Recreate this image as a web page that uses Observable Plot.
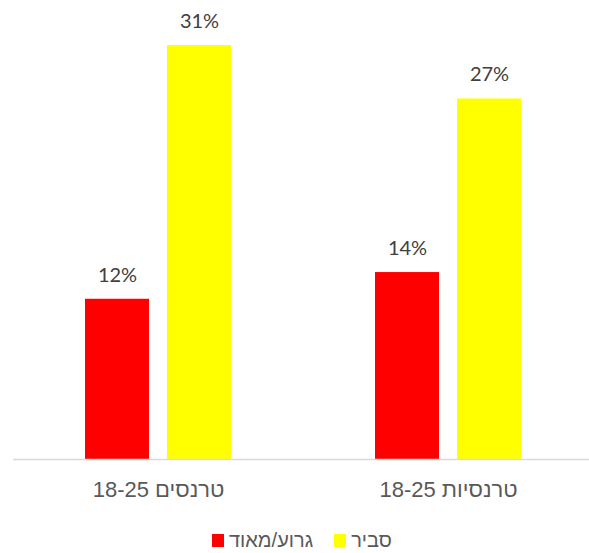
<!DOCTYPE html>
<html>
<head>
<meta charset="utf-8">
<script src="https://cdn.jsdelivr.net/npm/d3@7"></script>
<script src="https://cdn.jsdelivr.net/npm/@observablehq/plot@0.6"></script>
<style>
  html, body { margin: 0; padding: 0; background: #fff; overflow: hidden; }
  #wrap { position: relative; width: 589px; height: 553px; }
  #legend { position: absolute; left: 212px; top: 528px; height: 24px; line-height: 24px;
    display: flex; align-items: center; font-family: "Liberation Sans", Arial, sans-serif;
    font-size: 20px; color: #595959; }
  .sw { display: inline-block; width: 12px; height: 13px; }
</style>
</head>
<body>
<div id="wrap"><div id="chart"></div><div id="legend"></div></div>
<script>
const groups = ["טרנסים 18-25", "18-25 טרנסיות"];
const seriesNames = ["גרוע/מאוד", "סביר"];
const seriesColors = ["#ff0000", "#ffff00"];
const badValues = [12, 14];
const okValues = [31, 27];

const data = [];
groups.forEach((g, i) => {
  data.push({group: g, series: seriesNames[0], value: badValues[i]});
  data.push({group: g, series: seriesNames[1], value: okValues[i]});
});

const chart = Plot.plot({
  width: 589,
  height: 515,
  marginLeft: 12,
  marginRight: -4,
  marginTop: 5,
  marginBottom: 56,
  style: {fontFamily: "'Liberation Sans', Arial, sans-serif", background: "transparent"},
  fx: {domain: groups, padding: 0, axis: null},
  x: {domain: seriesNames, paddingInner: 0.217, paddingOuter: 0.86, axis: null},
  y: {domain: [0, 34], axis: null},
  color: {domain: seriesNames, range: seriesColors},
  marks: [
    Plot.barY(data, {fx: "group", x: "series", y: "value", fill: "series"}),
    Plot.ruleY([0], {stroke: "#d9d9d9", strokeWidth: 1.5}),
    Plot.text(data, {fx: "group", x: "series", y: "value", text: d => d.value + "%",
      dy: -24, lineAnchor: "middle", fontSize: 20, fill: "#404040",
      fontFamily: "Lato, 'Open Sans', sans-serif"}),
    Plot.text(groups, {fx: d => d, text: d => "\u200E" + d, frameAnchor: "bottom", dy: 30,
      lineAnchor: "middle", fontSize: 22, fill: "#595959"})
  ]
});
document.getElementById("chart").appendChild(chart);

const legend = document.getElementById("legend");
seriesNames.forEach((s, i) => {
  const sw = document.createElement("span");
  sw.className = "sw";
  sw.style.background = seriesColors[i];
  sw.style.marginRight = "5px";
  if (i > 0) sw.style.marginLeft = "21px";
  const t = document.createElement("span");
  t.textContent = s;
  legend.appendChild(sw);
  legend.appendChild(t);
});
</script>
</body>
</html>
